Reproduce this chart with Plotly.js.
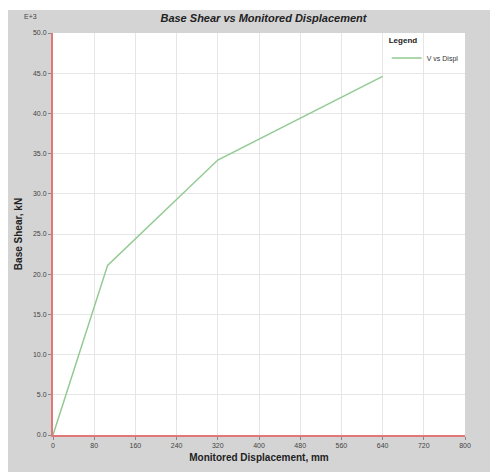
<!DOCTYPE html>
<html>
<head>
<meta charset="utf-8">
<script src="https://cdn.plot.ly/plotly-3.0.1.min.js"></script>
<style>
html,body{margin:0;padding:0;background:#ffffff;}
#wrap{position:absolute;left:8px;top:10px;width:482px;height:462px;background:#d4d4d4;}
#chart{width:482px;height:462px;}
</style>
</head>
<body>
<div id="wrap"><div id="chart"></div></div>
<script>
const displacement = [0, 106, 320, 640];
const baseShear = [0, 21.1, 34.2, 44.6];
const xTicks = [0, 80, 160, 240, 320, 400, 480, 560, 640, 720, 800];
const yTicks = [0, 5, 10, 15, 20, 25, 30, 35, 40, 45, 50];
const seriesName = 'V vs Displ';

const font = 'Liberation Sans, Arial, sans-serif';

Plotly.newPlot('chart', [{
  x: displacement,
  y: baseShear,
  type: 'scatter',
  mode: 'lines',
  name: seriesName,
  line: {color: '#93ca93', width: 1.5}
}], {
  width: 482,
  height: 462,
  paper_bgcolor: 'rgba(0,0,0,0)',
  plot_bgcolor: '#ffffff',
  margin: {l: 45, r: 25, t: 23, b: 37},
  showlegend: true,
  title: {
    text: '<b><i>Base Shear vs Monitored Displacement</i></b>',
    font: {family: font, size: 11, color: '#222'},
    x: 0.53, xanchor: 'center', y: 0.982, yanchor: 'middle'
  },
  xaxis: {
    range: [0, 800],
    tickvals: xTicks,
    ticktext: xTicks.map(String),
    showgrid: true, gridcolor: '#e6e6e6', gridwidth: 1,
    zeroline: false,
    showline: true, linecolor: '#e07878', linewidth: 2,
    ticks: 'outside', ticklen: 3, tickcolor: '#888',
    tickfont: {family: font, size: 7, color: '#444'},
    title: {text: '<b>Monitored Displacement, mm</b>', font: {family: font, size: 10, color: '#222'}, standoff: 6}
  },
  yaxis: {
    range: [0, 50],
    tickvals: yTicks,
    tickformat: '.1f',
    showgrid: true, gridcolor: '#e6e6e6', gridwidth: 1,
    zeroline: false,
    showline: true, linecolor: '#e07878', linewidth: 2,
    ticks: 'outside', ticklen: 3, tickcolor: '#888',
    tickfont: {family: font, size: 7, color: '#444'},
    title: {text: '<b>Base Shear, kN</b>', font: {family: font, size: 10, color: '#222'}, standoff: 8}
  },
  legend: {
    x: 0.81, xanchor: 'left', y: 1.0, yanchor: 'top',
    bgcolor: 'rgba(0,0,0,0)', borderwidth: 0,
    font: {family: font, size: 7, color: '#333'},
    title: {text: '<b>Legend</b>', font: {family: font, size: 8, color: '#222'}},
    itemwidth: 30
  },
  annotations: [{
    text: 'E+3', xref: 'paper', yref: 'paper', x: -0.035, y: 1.04,
    xanchor: 'right', yanchor: 'middle', showarrow: false,
    font: {family: font, size: 7, color: '#444'}
  }]
}, {displayModeBar: false, staticPlot: true});
</script>
</body>
</html>
